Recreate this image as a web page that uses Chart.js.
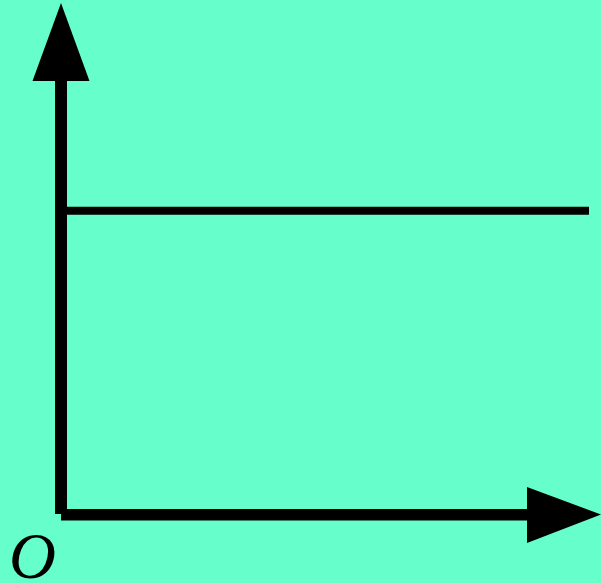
<!DOCTYPE html>
<html>
<head>
<meta charset="utf-8">
<script src="https://cdn.jsdelivr.net/npm/chart.js@4/dist/chart.umd.min.js"></script>
<style>
  html, body { margin: 0; padding: 0; background: #66FFCC; }
  #wrap { width: 601px; height: 583px; }
</style>
</head>
<body>
<div id="wrap"><canvas id="c" width="601" height="583"></canvas></div>
<script>
// Data
const xValues = [0, 44];
const yValues = [3, 3];
const originLabel = "O";

const bgPlugin = {
  id: 'bg',
  beforeDraw(chart) {
    const ctx = chart.ctx;
    ctx.save();
    ctx.fillStyle = '#66FFCC';
    ctx.fillRect(0, 0, chart.width, chart.height);
    ctx.restore();
  }
};

const axesPlugin = {
  id: 'arrowAxes',
  afterDatasetsDraw(chart) {
    const ctx = chart.ctx;
    const x0 = chart.scales.x.getPixelForValue(0);
    const y0 = chart.scales.y.getPixelForValue(0);
    ctx.save();
    ctx.fillStyle = '#000';
    // y axis shaft
    ctx.fillRect(x0 - 6, 80, 12, y0 - 1 - 80);
    // y arrow head
    ctx.beginPath();
    ctx.moveTo(x0, 3);
    ctx.lineTo(x0 + 28.5, 81);
    ctx.lineTo(x0 - 28.5, 81);
    ctx.closePath();
    ctx.fill();
    // x axis shaft
    ctx.fillRect(x0, y0 - 6, 527 - x0, 11.5);
    // x arrow head
    ctx.beginPath();
    ctx.moveTo(601, y0 - 0.5);
    ctx.lineTo(527, y0 - 28);
    ctx.lineTo(527, y0 + 28);
    ctx.closePath();
    ctx.fill();
    // origin label
    ctx.font = 'italic 65px "Liberation Serif", "DejaVu Serif", serif';
    ctx.textBaseline = 'alphabetic';
    ctx.textAlign = 'left';
    ctx.fillText(originLabel, 9, 578);
    ctx.restore();
  }
};

new Chart(document.getElementById('c'), {
  type: 'line',
  data: {
    datasets: [{
      data: xValues.map((x, i) => ({ x: x, y: yValues[i] })),
      borderColor: '#000',
      borderWidth: 8,
      pointRadius: 0,
      borderCapStyle: 'butt',
      fill: false,
      tension: 0
    }]
  },
  options: {
    responsive: false,
    animation: false,
    devicePixelRatio: 1,
    layout: { padding: { left: 61, right: 0, top: 8, bottom: 68 } },
    plugins: { legend: { display: false }, tooltip: { enabled: false } },
    scales: {
      x: { type: 'linear', min: 0, max: 45, display: false },
      y: { type: 'linear', min: 0, max: 5, display: false }
    }
  },
  plugins: [bgPlugin, axesPlugin]
});
</script>
</body>
</html>
